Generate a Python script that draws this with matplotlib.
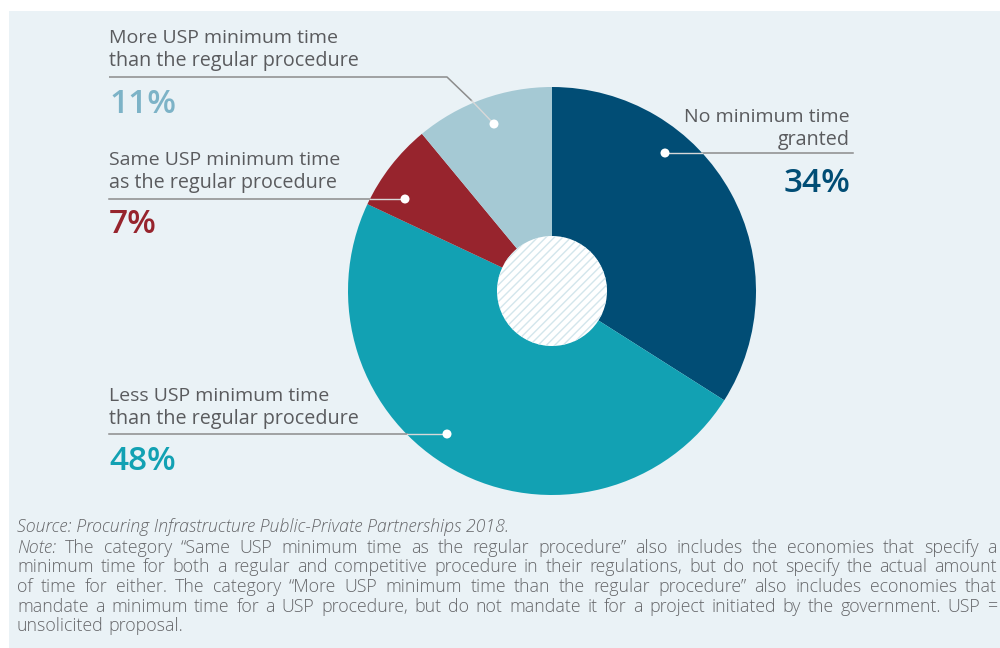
import matplotlib
matplotlib.use("Agg")
import matplotlib.pyplot as plt
from matplotlib.patches import Rectangle, Circle
import numpy as np

# ---------------- data ----------------
categories = ["No minimum time\ngranted",
              "Less USP minimum time\nthan the regular procedure",
              "Same USP minimum time\nas the regular procedure",
              "More USP minimum time\nthan the regular procedure"]
values = [34, 48, 7, 11]
pct_labels = ["34%", "48%", "7%", "11%"]
slice_colors = ["#014D75", "#12A1B3", "#97242D", "#A5C9D4"]
pct_colors = ["#014D75", "#12A1B3", "#97242D", "#7DB3C7"]

source_text = "Source: Procuring Infrastructure Public-Private Partnerships 2018."
note_lines = [
    "Note: The category \u201cSame USP minimum time as the regular procedure\u201d also includes the economies that specify a",
    "minimum time for both a regular and competitive procedure in their regulations, but do not specify the actual amount",
    "of time for either. The category \u201cMore USP minimum time than the regular procedure\u201d also includes economies that",
    "mandate a minimum time for a USP procedure, but do not mandate it for a project initiated by the government. USP =",
    "unsolicited proposal.",
]

W, H = 1000, 648
fig = plt.figure(figsize=(W / 100, H / 100), dpi=100, facecolor="white")
ax = fig.add_axes([0, 0, 1, 1])

def Y(py):
    return H - py

cx, cy, R = 552, Y(291), 204
ax.pie(values, colors=slice_colors, startangle=90, counterclock=False,
       center=(cx, cy), radius=R, wedgeprops=dict(linewidth=0), frame=True)
ax.set_xlim(0, W)
ax.set_ylim(0, H)
ax.set_aspect("equal")
ax.axis("off")

# background panel
ax.add_patch(Rectangle((9, 0), W - 9, Y(11), facecolor="#EAF2F6", edgecolor="none", zorder=0))

plt.rcParams['hatch.linewidth'] = 1.0
plt.rcParams['hatch.color'] = "#D3E6EC"
ax.add_patch(Circle((cx, cy), 55, facecolor="white", edgecolor="#D3E6EC", hatch="////",
                    linewidth=0, zorder=5))

LABEL_FONT = "Open Sans"
label_color = "#5A5B5E"
line_gray = "#8C8C8C"
line_light = "#D8D8D8"

def edge_x(py, side):
    dy = (H - py) - cy
    dx = np.sqrt(R ** 2 - dy ** 2)
    return cx + side * dx

def dot(x, py):
    ax.add_patch(Circle((x, Y(py)), 4.5, facecolor="white", edgecolor="none", zorder=8))

# label specs: (index, x anchor, ha, baselines of 2 lines, underline y, pct baseline)
specs = [
    (3, 109, "left", (43, 66), 77, 113),
    (2, 109, "left", (165, 188), 199, 233),
    (1, 109, "left", (401, 424), 434, 470),
    (0, 850, "right", (122, 145), 153, 192),
]
for idx, x, ha, (b1, b2), uy, pb in specs:
    l1, l2 = categories[idx].split("\n")
    ax.text(x, Y(b1), l1, ha=ha, va="baseline", fontsize=14, color=label_color,
            family=LABEL_FONT, zorder=9)
    ax.text(x, Y(b2), l2, ha=ha, va="baseline", fontsize=14.2, color=label_color,
            family=LABEL_FONT, zorder=9)
    ax.text(x, Y(pb), pct_labels[idx], ha=ha, va="baseline", fontsize=24,
            color=pct_colors[idx], family=LABEL_FONT, fontweight="semibold", zorder=9)

# leader lines
ax.plot([109, 447, 472], [Y(77), Y(77), Y(101)], color=line_gray, lw=1.1, zorder=7,
        solid_capstyle="butt")
ax.plot([472, 494], [Y(101), Y(124)], color=line_light, lw=1.0, zorder=7)
dot(494, 124)
ex = edge_x(199, -1)
ax.plot([109, ex], [Y(199), Y(199)], color=line_gray, lw=1.1, zorder=7)
ax.plot([ex, 405], [Y(199), Y(199)], color=line_light, lw=1.0, zorder=7)
dot(405, 199)
ex = edge_x(434, -1)
ax.plot([109, ex], [Y(434), Y(434)], color=line_gray, lw=1.1, zorder=7)
ax.plot([ex, 447], [Y(434), Y(434)], color=line_light, lw=1.0, zorder=7)
dot(447, 434)
ex = edge_x(153, 1)
ax.plot([ex, 853], [Y(153), Y(153)], color=line_gray, lw=1.1, zorder=7)
ax.plot([665, ex], [Y(153), Y(153)], color=line_light, lw=1.0, zorder=7)
dot(665, 153)

# ---------------- footnotes ----------------
FOOT_FONT = "Open Sans"
FOOT_W = "light"
foot_color = "#66676A"
FS = 12.8
fig.canvas.draw()
renderer = fig.canvas.get_renderer()

def width_of(s, style="normal"):
    t = ax.text(0, 0, s, fontsize=FS, family=FOOT_FONT, fontweight=FOOT_W, style=style)
    bb = t.get_window_extent(renderer)
    t.remove()
    return bb.width

ax.text(17, Y(532), source_text, ha="left", va="baseline", fontsize=FS, family=FOOT_FONT,
        fontweight=FOOT_W, style="italic", color=foot_color, zorder=9)

left, right = 17, 997
baselines = [553, 572.5, 592, 611.5, 631]
space_w = width_of("a b") - width_of("ab")
for i, (line, b) in enumerate(zip(note_lines, baselines)):
    words = line.split(" ")
    styles = ["normal"] * len(words)
    if words[0] == "Note:":
        styles[0] = "italic"
    widths = [width_of(w, s) for w, s in zip(words, styles)]
    if i < len(note_lines) - 1 and len(words) > 1:
        gap = (right - left - sum(widths)) / (len(words) - 1)
    else:
        gap = space_w
    x = left
    for w, s, wd in zip(words, styles, widths):
        ax.text(x, Y(b), w, ha="left", va="baseline", fontsize=FS, family=FOOT_FONT,
                fontweight=FOOT_W, style=s, color=foot_color, zorder=9)
        x += wd + gap

fig.savefig("out.png", dpi=100, facecolor="white")
